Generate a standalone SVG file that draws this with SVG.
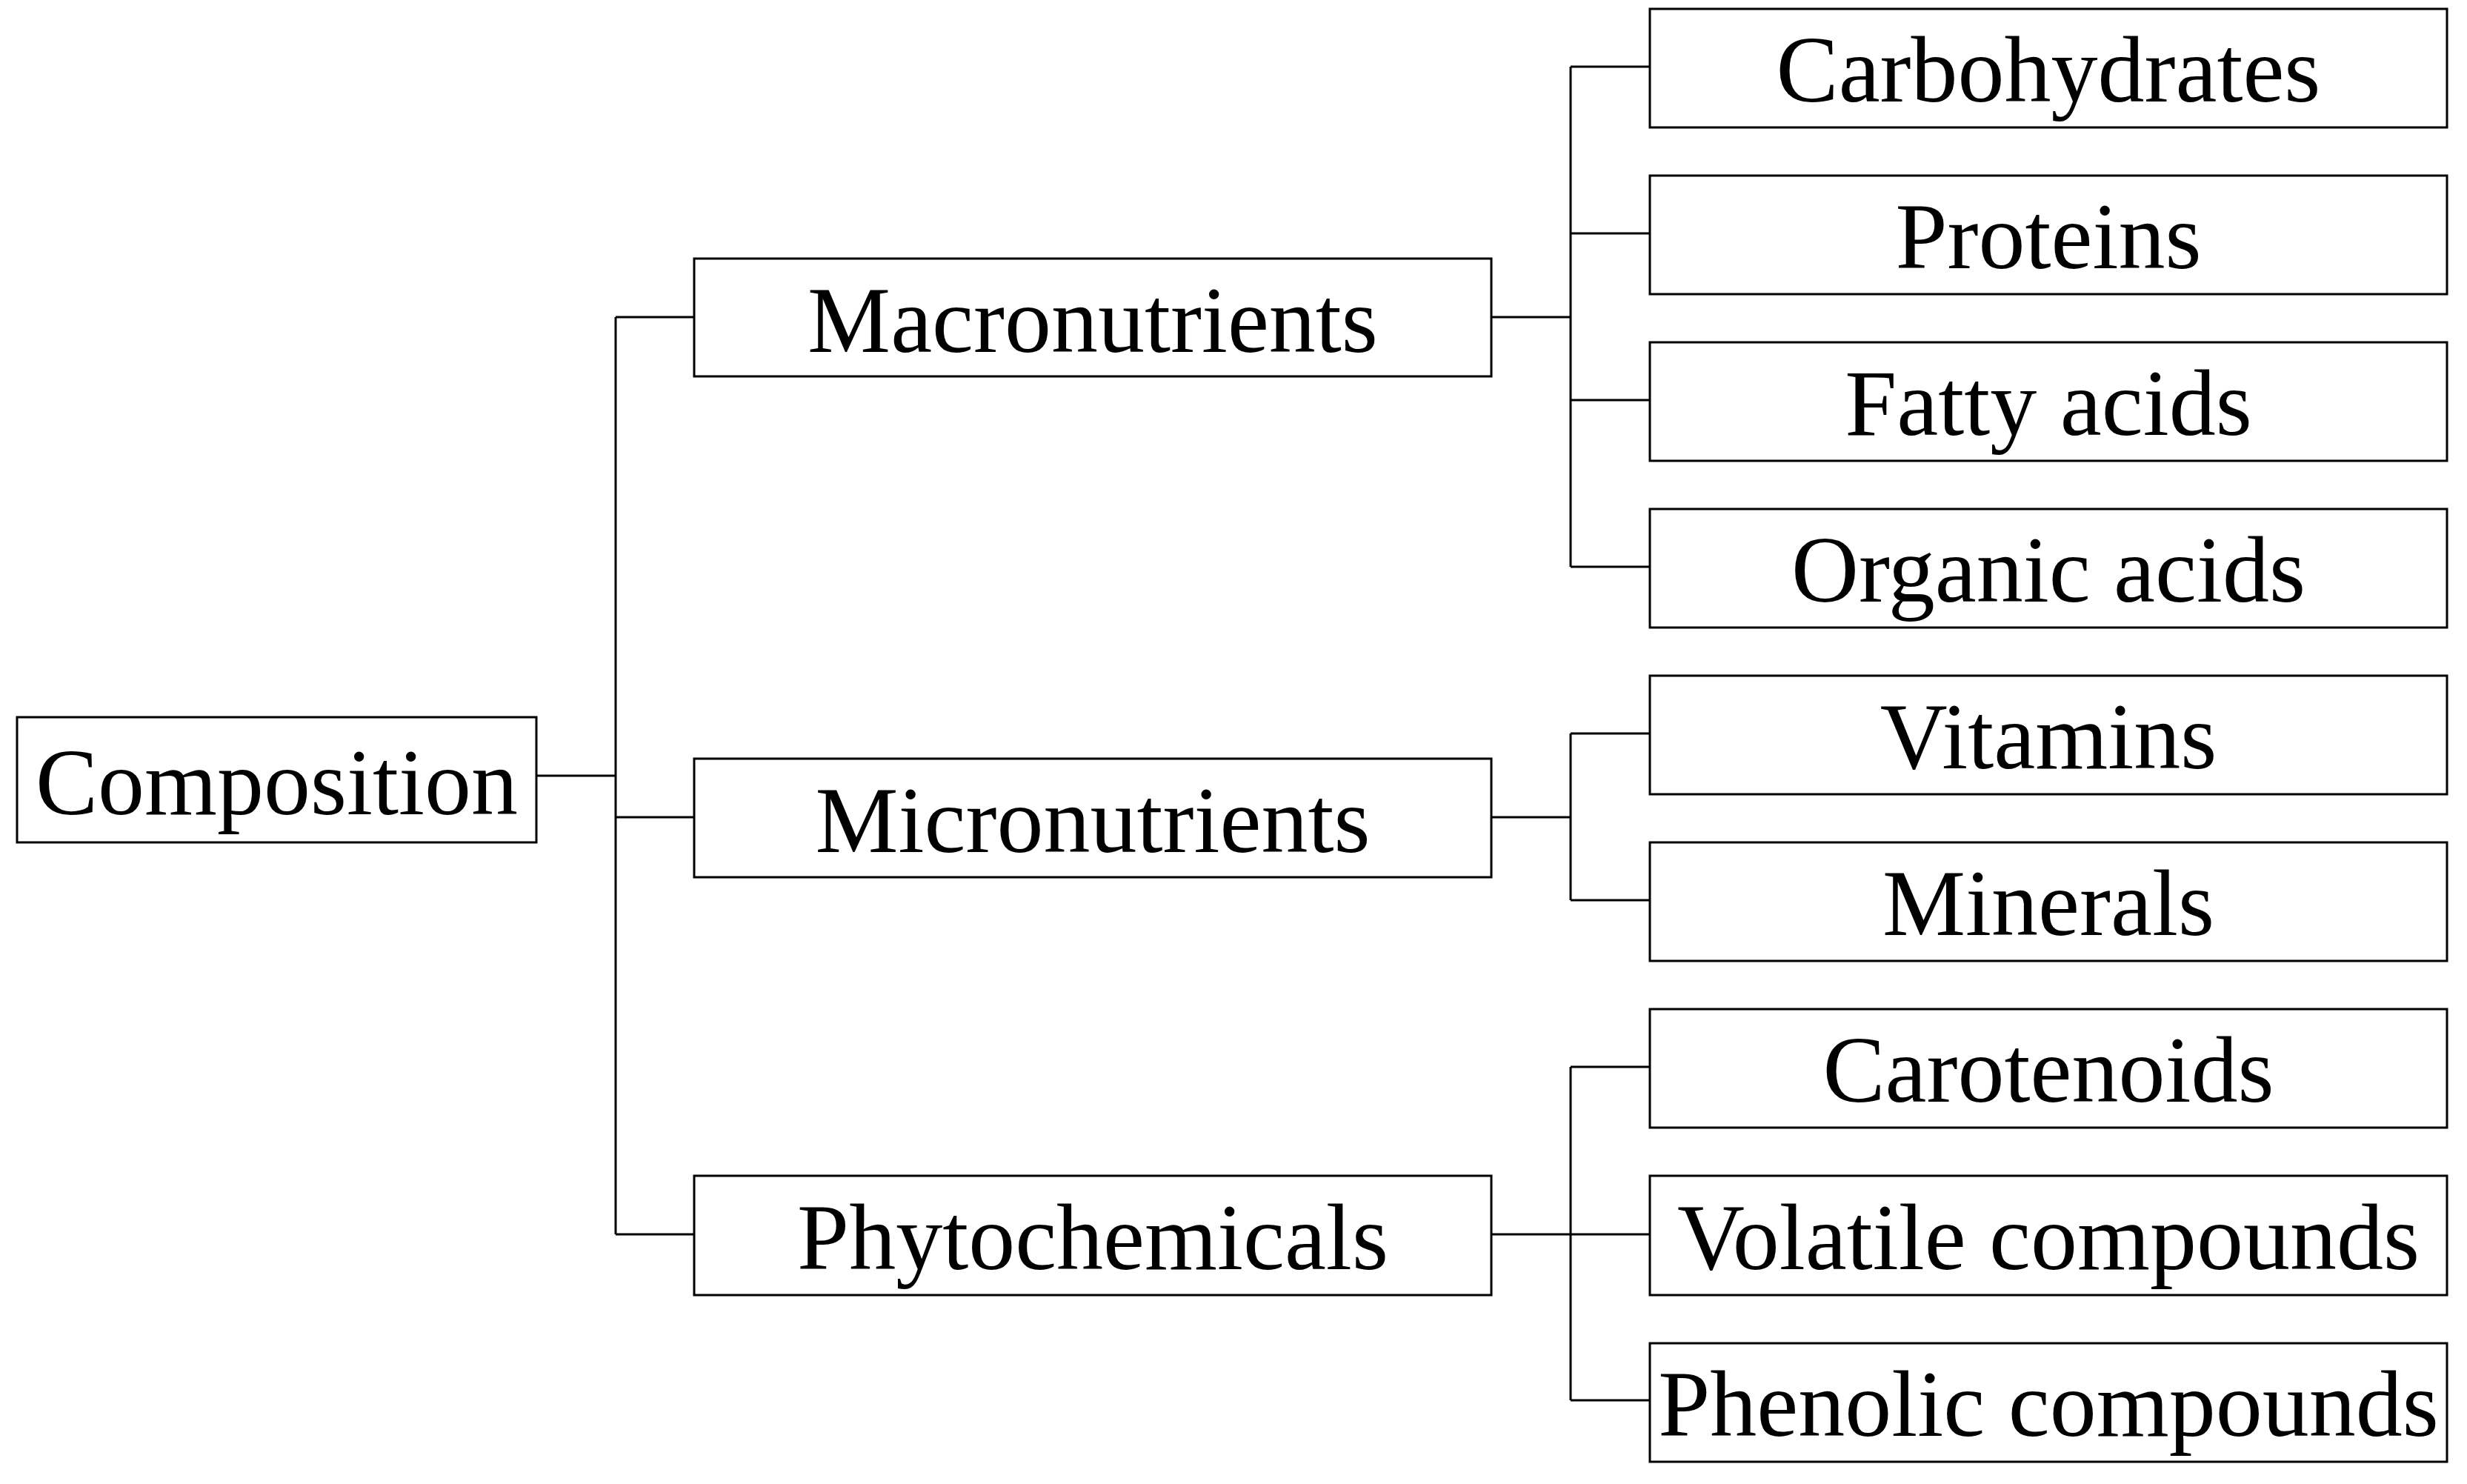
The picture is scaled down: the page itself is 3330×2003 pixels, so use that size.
<svg xmlns="http://www.w3.org/2000/svg" width="3330" height="2003" viewBox="0 0 3330 2003">
<style>
rect.box{fill:#fff;stroke:#000;stroke-width:3}
text{font-family:"Liberation Serif","Times New Roman",serif;font-size:126px;fill:#000;text-anchor:middle}
#connectors path{fill:none;stroke:#000;stroke-width:3}
</style>
<rect width="3330" height="2003" fill="#fff"/>
<g id="connectors">
<path d="M724 1047H831M831 428V1666M831 428H937M831 1103H937M831 1666H937"/>
<path d="M2013 428H2120M2120 90V765M2120 90H2227M2120 315H2227M2120 540H2227M2120 765H2227"/>
<path d="M2013 1103H2120M2120 990V1215M2120 990H2227M2120 1215H2227"/>
<path d="M2013 1666H2227M2120 1440V1890M2120 1440H2227M2120 1890H2227"/>
</g>
<g id="composition"><rect class="box" x="23" y="968" width="701" height="169"/><text x="373.5" y="1099">Composition</text></g>
<g id="macronutrients"><rect class="box" x="937" y="349" width="1076" height="159"/><text x="1475" y="475">Macronutrients</text></g>
<g id="micronutrients"><rect class="box" x="937" y="1024" width="1076" height="160"/><text x="1475" y="1150">Micronutrients</text></g>
<g id="phytochemicals"><rect class="box" x="937" y="1587" width="1076" height="161"/><text x="1475" y="1713">Phytochemicals</text></g>
<g id="carbohydrates"><rect class="box" x="2227" y="12" width="1076" height="160"/><text x="2765" y="137">Carbohydrates</text></g>
<g id="proteins"><rect class="box" x="2227" y="237" width="1076" height="160"/><text x="2765" y="362">Proteins</text></g>
<g id="fatty-acids"><rect class="box" x="2227" y="462" width="1076" height="160"/><text x="2765" y="587">Fatty acids</text></g>
<g id="organic-acids"><rect class="box" x="2227" y="687" width="1076" height="160"/><text x="2765" y="812">Organic acids</text></g>
<g id="vitamins"><rect class="box" x="2227" y="912" width="1076" height="160"/><text x="2765" y="1037">Vitamins</text></g>
<g id="minerals"><rect class="box" x="2227" y="1137" width="1076" height="160"/><text x="2765" y="1262">Minerals</text></g>
<g id="carotenoids"><rect class="box" x="2227" y="1362" width="1076" height="160"/><text x="2765" y="1487">Carotenoids</text></g>
<g id="volatile-compounds"><rect class="box" x="2227" y="1587" width="1076" height="161"/><text x="2765" y="1713">Volatile compounds</text></g>
<g id="phenolic-compounds"><rect class="box" x="2227" y="1813" width="1076" height="160"/><text x="2765" y="1938">Phenolic compounds</text></g>
</svg>
